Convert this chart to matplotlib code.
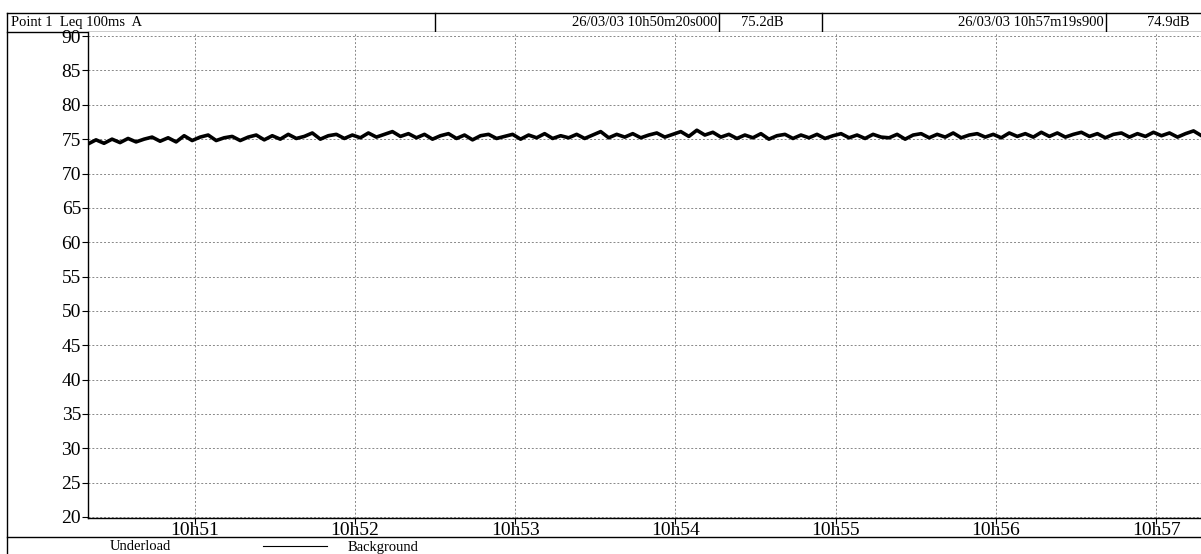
import numpy as np
import matplotlib
matplotlib.use('Agg')
import matplotlib.pyplot as plt

plt.rcParams['font.family'] = ['Liberation Serif', 'DejaVu Serif']

# Leq 100ms A levels (dB), every 3 s from 10h50m20s
levels = [
    74.3, 74.9, 74.4, 75.0, 74.5, 75.1, 74.6, 75.0, 75.3, 74.7, 75.2, 74.6, 75.5, 74.8, 75.3, 75.6, 74.8, 75.2, 75.4, 74.8,
    75.3, 75.6, 74.9, 75.5, 75.0, 75.7, 75.1, 75.4, 75.9, 75.0, 75.5, 75.7, 75.1, 75.6, 75.2, 75.9, 75.3, 75.7, 76.1, 75.4,
    75.8, 75.2, 75.7, 75.0, 75.5, 75.8, 75.1, 75.6, 74.9, 75.5, 75.7, 75.1, 75.4, 75.7, 75.0, 75.6, 75.2, 75.8, 75.1, 75.5,
    75.2, 75.7, 75.1, 75.6, 76.1, 75.2, 75.7, 75.3, 75.8, 75.2, 75.6, 75.9, 75.3, 75.7, 76.1, 75.4, 76.3, 75.6, 76.0, 75.3,
    75.7, 75.1, 75.6, 75.2, 75.8, 75.0, 75.5, 75.7, 75.1, 75.6, 75.2, 75.7, 75.1, 75.5, 75.8, 75.2, 75.6, 75.1, 75.7, 75.3,
    75.2, 75.7, 75.0, 75.6, 75.8, 75.2, 75.7, 75.3, 75.9, 75.2, 75.6, 75.8, 75.3, 75.7, 75.2, 75.9, 75.4, 75.8, 75.3, 76.0,
    75.4, 75.9, 75.3, 75.7, 76.0, 75.4, 75.8, 75.2, 75.7, 75.9, 75.3, 75.8, 75.4, 76.0, 75.5, 75.9, 75.3, 75.8, 76.2, 75.5,
]
start_min = 50 + 20 / 60   # 10h50m20s, in minutes past 10h
step_s = 3

x_ticks = [51, 52, 53, 54, 55, 56, 57]
x_labels = ['10h51', '10h52', '10h53', '10h54', '10h55', '10h56', '10h57']
y_ticks = [20, 25, 30, 35, 40, 45, 50, 55, 60, 65, 70, 75, 80, 85, 90]

title = 'Point 1  Leq 100ms  A'
cursor1_time, cursor1_val = '26/03/03 10h50m20s000', '75.2dB'
cursor2_time, cursor2_val = '26/03/03 10h57m19s900', '74.9dB'

t = start_min + np.arange(len(levels)) * step_s / 60.0

W, H = 1201, 554
fig = plt.figure(figsize=(W / 100, H / 100), dpi=100)

# main plot area
ax = fig.add_axes([88 / W, 1 - 518 / H, 1 - 88 / W, (518 - 32) / H])
ax.plot(t, levels, color='black', lw=2.6)
ax.set_xlim(start_min, 57.28)
ax.set_ylim(19.85, 90.6)
ax.set_xticks(x_ticks)
ax.set_xticklabels(x_labels)
ax.set_yticks(y_ticks)
ax.tick_params(axis='y', direction='out', length=4, width=0.8, pad=1, labelsize=14)
ax.tick_params(axis='x', direction='out', length=4, width=0.8, pad=-1, labelsize=14)
ax.grid(True, color='#888888', lw=0.7, ls=(0, (2, 2)))
for s in ['top', 'right']:
    ax.spines[s].set_visible(False)
for s in ['left', 'bottom']:
    ax.spines[s].set_linewidth(1.0)

# frame, header and legend strip drawn in pixel coords
ov = fig.add_axes([0, 0, 1, 1], zorder=-1)
ov.set_xlim(0, W)
ov.set_ylim(H, 0)
ov.axis('off')
k = dict(color='black', lw=1.0)
ov.plot([7, W], [13, 13], **k)
ov.plot([7, W], [32, 32], **k)
ov.plot([7, 7], [13, H], **k)
ov.plot([7, W], [537, 537], **k)
for xd in [435, 719, 822, 1106]:
    ov.plot([xd, xd], [13, 32], **k)

ov.text(11, 22.5, title, fontsize=10.5, va='center', ha='left')
ov.text(717, 22.5, cursor1_time, fontsize=10.5, va='center', ha='right')
ov.text(762, 22.5, cursor1_val, fontsize=10.5, va='center', ha='center')
ov.text(1104, 22.5, cursor2_time, fontsize=10.5, va='center', ha='right')
ov.text(1168, 22.5, cursor2_val, fontsize=10.5, va='center', ha='center')

ov.text(140, 547, 'Underload', fontsize=10.5, va='center', ha='center')
ov.plot([263, 327], [546, 546], color='black', lw=0.8)
ov.text(348, 547, 'Background', fontsize=10.5, va='center', ha='left')

fig.savefig('out.png', dpi=100)
